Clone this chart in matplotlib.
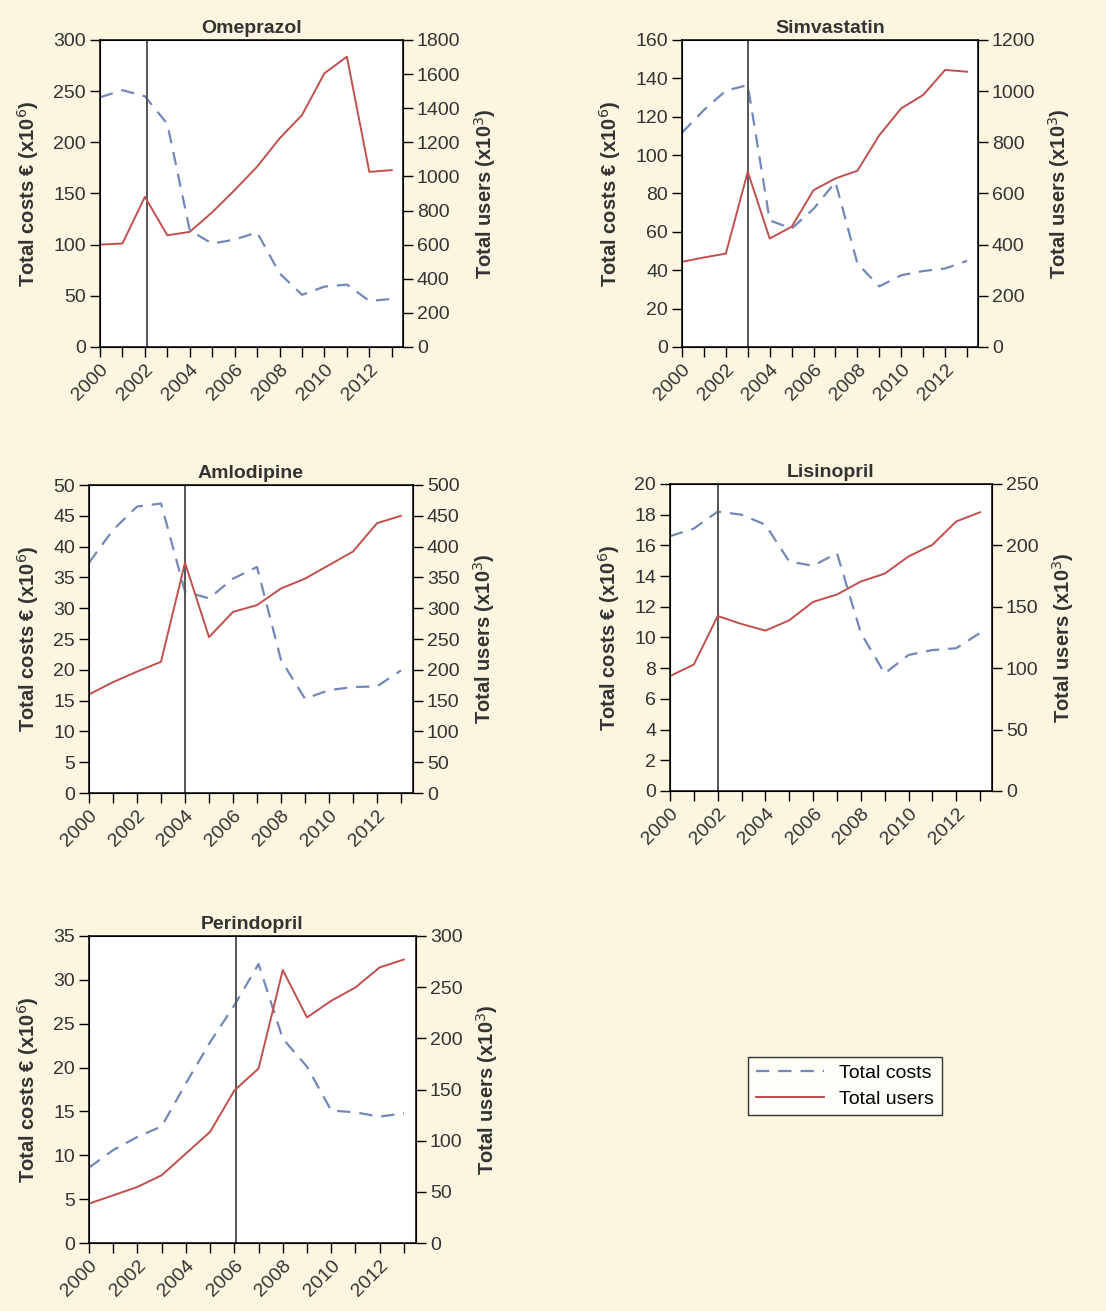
import numpy as np
import matplotlib
matplotlib.use("Agg")
from matplotlib import pyplot as plt
from matplotlib.lines import Line2D

plt.rcParams['font.family'] = ['Liberation Sans', 'DejaVu Sans']

years = np.arange(2000, 2014)

# Omeprazol
omep_costs = [244, 251, 245, 218, 114, 101, 105, 112, 72, 51, 59, 61, 45, 47]
omep_users = [600, 607, 880, 655, 675, 790, 920, 1057, 1223, 1360, 1605, 1702, 1027, 1037]
# Simvastatin
simv_costs = [111.7, 123.5, 133.6, 136.5, 66, 61.7, 72, 86, 43.5, 31.6, 37.4, 39.6, 40.9, 44.9]
simv_users = [333, 350, 365, 685, 424, 470, 613, 659, 689, 828, 933, 985, 1083, 1076]
# Amlodipine
amlo_costs = [37.4, 42.7, 46.5, 47, 32.7, 31.6, 34.8, 36.7, 21.6, 15.3, 16.7, 17.2, 17.3, 19.9]
amlo_users = [160, 180, 197, 213, 374, 253, 294, 305, 332, 348, 370, 392, 438, 450]
# Lisinopril
lisi_costs = [16.6, 17.1, 18.2, 18.0, 17.35, 14.95, 14.67, 15.5, 10.3, 7.66, 8.86, 9.18, 9.3, 10.3]
lisi_users = [93.6, 103, 142.5, 136, 130.6, 139, 154, 160, 170.6, 177, 191, 200.5, 219.5, 227]
# Perindopril
peri_costs = [8.6, 10.6, 12.1, 13.3, 18.2, 22.9, 27.1, 31.8, 23.3, 20.1, 15.1, 14.9, 14.4, 14.8]
peri_users = [38.5, 46.6, 54.8, 66.2, 87.4, 108.6, 149, 170.5, 266.7, 220.4, 236.7, 249.7, 269.3, 277]

panels = [
    ("Omeprazol", omep_costs, omep_users, 2002.1, (0, 300, 50), (0, 1800, 200)),
    ("Simvastatin", simv_costs, simv_users, 2003.0, (0, 160, 20), (0, 1200, 200)),
    ("Amlodipine", amlo_costs, amlo_users, 2004.0, (0, 50, 5), (0, 500, 50)),
    ("Lisinopril", lisi_costs, lisi_users, 2002.0, (0, 20, 2), (0, 250, 50)),
    ("Perindopril", peri_costs, peri_users, 2006.05, (0, 35, 5), (0, 300, 50)),
]

# axes boxes in pixels: left, right, top, bottom
boxes = [(100, 403, 40, 347), (682, 978, 40, 347), (89, 413, 485, 793),
         (670, 992, 484, 791), (89, 416, 936, 1243)]

W, H = 1106, 1311
bg = '#fcf6e1'
cost_col = '#7388b8'
user_col = '#c0504d'
txt_col = '#333333'

fig = plt.figure(figsize=(W / 100, H / 100), dpi=100, facecolor=bg)

for (name, costs, users, vline, lt, rt), (l, r, t, b) in zip(panels, boxes):
    ax = fig.add_axes([l / W, 1 - b / H, (r - l) / W, (b - t) / H])
    ax.set_facecolor('white')
    ax.plot(years, costs, color=cost_col, lw=1.6, linestyle=(0, (6, 4)))
    ax.axvline(vline, color='#555555', lw=1.4)
    ax.set_xlim(2000, 2013.5)
    ax.set_ylim(lt[0], lt[1])
    ax.set_yticks(np.arange(lt[0], lt[1] + 0.001, lt[2]))
    ax.set_xticks(years)
    ax.set_xticklabels([str(y) if y % 2 == 0 else '' for y in years],
                       rotation=45, ha='right', rotation_mode='anchor')
    ax.tick_params(direction='out', length=7, width=1, labelsize=14,
                   colors='black', labelcolor=txt_col, pad=3)
    ax.set_ylabel('Total costs € (x10$^6$)', fontsize=14.5, fontweight='bold',
                  color=txt_col, labelpad=9)
    ax.set_title(name, fontsize=14, fontweight='bold', color=txt_col, pad=5)
    for s in ax.spines.values():
        s.set_linewidth(1.1)

    ax2 = ax.twinx()
    ax2.plot(years, users, color=user_col, lw=1.4)
    ax2.set_ylim(rt[0], rt[1])
    ax2.set_yticks(np.arange(rt[0], rt[1] + 0.001, rt[2]))
    ax2.tick_params(direction='out', length=7, width=1, labelsize=14,
                    colors='black', labelcolor=txt_col, pad=3)
    ax2.set_ylabel('Total users (x10$^3$)', fontsize=14.5, fontweight='bold',
                   color=txt_col, labelpad=8)

handles = [Line2D([], [], color=cost_col, lw=1.6, linestyle=(0, (6, 4))),
           Line2D([], [], color=user_col, lw=1.4)]
leg = fig.legend(handles, ['Total costs', 'Total users'], loc='center',
                 bbox_to_anchor=(845 / W, 1 - 1086 / H), fontsize=14,
                 frameon=True, fancybox=False, edgecolor='black',
                 handlelength=3.5, borderpad=0.4, labelspacing=0.4)
leg.get_frame().set_linewidth(1.0)

fig.savefig('out.png', dpi=100, facecolor=bg)
